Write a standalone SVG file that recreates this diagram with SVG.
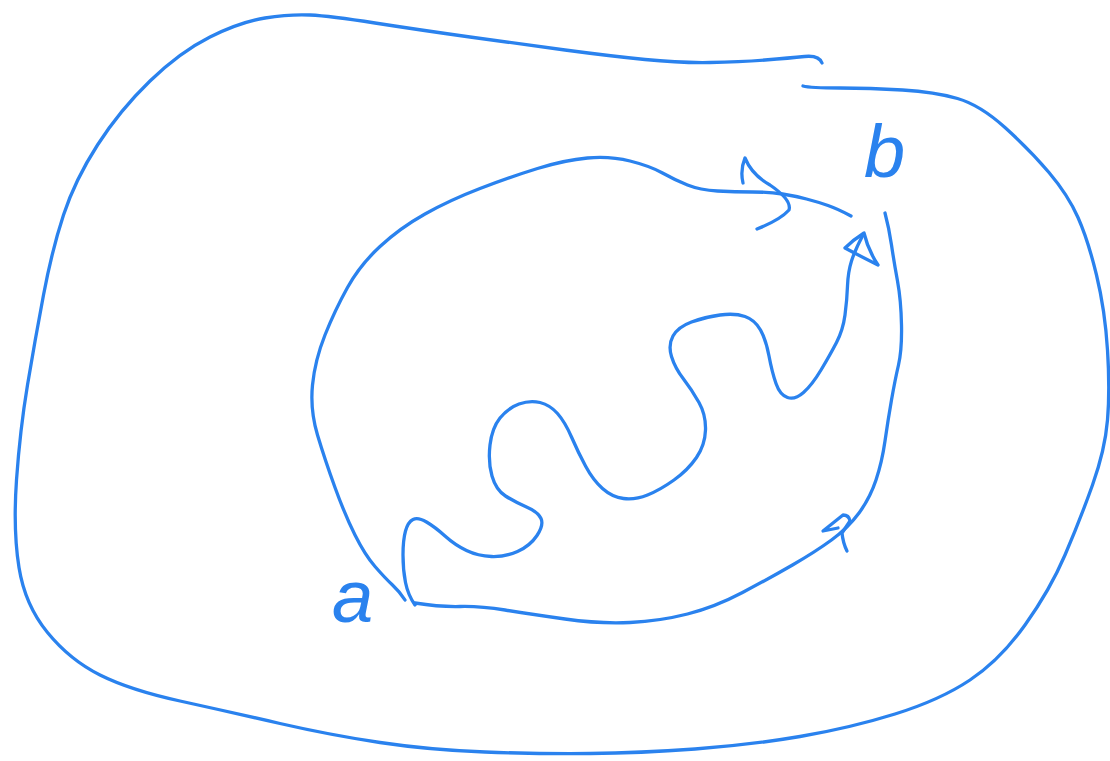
<svg xmlns="http://www.w3.org/2000/svg" width="1110" height="761" viewBox="0 0 1110 761">
<style>
.s{fill:none;stroke:#2a82ee;stroke-width:3.3;stroke-linecap:round;stroke-linejoin:round}
.t{fill:#2a82ee;font-family:"Liberation Sans",Arial,sans-serif}
</style>
<rect width="1110" height="761" fill="#ffffff"/>
<g id="outer">
<path class="s" d="M822,63 Q819,55 804.5,56.5 Q790,58 765,60 Q740,62 710,62.5 Q680,63 645,59.5 Q610,56 565,50 Q520,44 470,37 Q420,30 375,23 Q330,16 310,15 Q290,14 265,18 Q240,22 210,37 Q180,52 150,81 Q120,110 97.5,145 Q75,180 63.5,215 Q52,250 43.5,295 Q35,340 27.5,385 Q20,430 16.5,480 Q13,530 19,567.5 Q25,605 47.5,632.5 Q70,660 100,675 Q130,690 180,701 Q230,712 280,723.5 Q330,735 380,742.5 Q430,750 485,752 Q540,754 590,753.5 Q640,753 695,749 Q750,745 800,736.5 Q850,728 895,714 Q940,700 970,680 Q1000,660 1025,625 Q1050,590 1065,555 Q1080,520 1092.5,485 Q1105,450 1107.5,420 Q1110,390 1107.5,350 Q1105,310 1096.5,275 Q1088,240 1078,217.5 Q1068,195 1049,172.5 Q1030,150 1005,127.5 Q980,105 957.5,98.5 Q935,92 902.5,90 Q870,88 840,88 Q810,88 803,86"/>
</g>
<g id="inner">
<path class="s" d="M851,216 Q838,209 828,205.5 Q818,202 806.5,199 Q795,196 782.5,194 Q770,192 752.5,192 Q735,192 717.5,191 Q700,190 687.5,185 Q675,180 662.5,173 Q650,166 630,161 Q610,156 587.5,158 Q565,160 537.5,168.5 Q510,177 480,188.5 Q450,200 425,214 Q400,228 380,246.5 Q360,265 347.5,287.5 Q335,310 325,335 Q315,360 312.5,385 Q310,410 317.5,435 Q325,460 335,487.5 Q345,515 355,535 Q365,555 375,566.5 Q385,578 392.5,585 Q400,592 405,600"/>
<path class="s" d="M415,603 Q440,607 460,606.5 Q480,606 505,610 Q530,614 565,619 Q600,624 630,622.5 Q660,621 687.5,614 Q715,607 742.5,592.5 Q770,578 792.5,565 Q815,552 831.5,540 Q848,528 859,513 Q870,498 876,480 Q882,462 885,441 Q888,420 891.5,400 Q895,380 898.5,365 Q902,350 901.5,325 Q901,300 897.5,281 Q894,262 891.5,245 Q889,228 885,213"/>
</g>
<g id="connectors">
<path class="s" d="M415,605 Q408,595 405.5,582.5 Q403,570 403,555 Q403,540 405.5,531 Q408,522 413,519.5 Q418,517 426.5,522 Q435,527 445,536 Q455,545 466.5,550.5 Q478,556 491.5,556.5 Q505,557 517.5,551.5 Q530,546 537,535.5 Q544,525 541,518.5 Q538,512 526.5,507 Q515,502 505.5,496 Q496,490 492,476 Q488,462 490,445 Q492,428 500,418 Q508,408 519,404 Q530,400 540,402.5 Q550,405 557.5,413.5 Q565,422 571.5,437 Q578,452 585.5,466 Q593,480 602.5,488.5 Q612,497 623.5,498.5 Q635,500 647.5,495 Q660,490 674,480 Q688,470 696.5,457.5 Q705,445 705.5,430 Q706,415 699,402.5 Q692,390 683.5,379 Q675,368 671.5,356.5 Q668,345 673,336 Q678,327 691.5,322 Q705,317 720,315 Q735,313 745,316.5 Q755,320 760.5,330 Q766,340 769,356 Q772,372 776,383.5 Q780,395 787.5,397.5 Q795,400 803.5,392.5 Q812,385 821,370 Q830,355 836.5,342.5 Q843,330 845,315 Q847,300 847.5,286 Q848,272 851.5,261 Q855,250 863,235"/>
<path class="s" d="M878,265 Q868,250 864,233 Q853,240 845,248 Q860,256 878,265"/>
<path class="s" d="M743,183 Q740,170 745,158 Q752,175 770,185 Q792,200 789,210 Q780,220 757,229"/>
<path class="s" d="M838,528 L823,531 L843,515 Q849,515 850,521 L842,533 Q843,543 847,551"/>
</g>
<g id="label-a"><text class="t" x="332" y="622" font-size="74" font-style="italic">a</text></g>
<g id="label-b"><text class="t" x="864" y="177" font-size="74" font-style="italic">b</text></g>
</svg>
